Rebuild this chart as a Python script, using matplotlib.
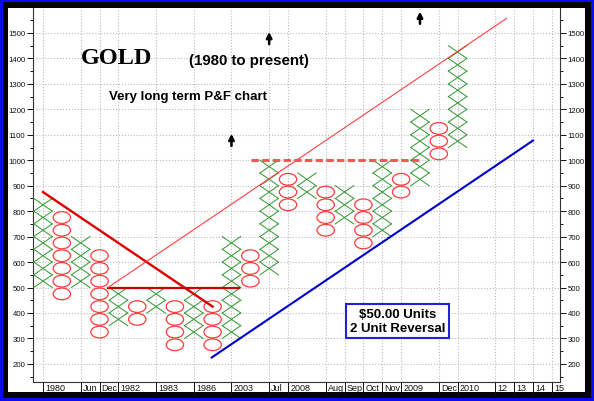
#!/usr/bin/python3
# coding: utf-8
""" Gold very long term point & figure chart """

import matplotlib
matplotlib.use('Agg')
import matplotlib.pyplot as plt
from matplotlib.patches import Ellipse, Rectangle
from matplotlib.transforms import ScaledTranslation

# ---- Data ----
box = 50
col_kind = ['X', 'O', 'X', 'O', 'X', 'O', 'X', 'O', 'X', 'O', 'X', 'O',
            'X', 'O', 'X', 'O', 'X', 'O', 'X', 'O', 'X', 'O', 'X']
col_low = [500, 450, 500, 300, 350, 350, 400, 250, 300, 250, 300, 500,
           550, 800, 850, 700, 750, 650, 700, 850, 900, 1000, 1050]
col_high = [850, 800, 700, 650, 500, 450, 500, 450, 500, 450, 700, 650,
            1000, 950, 950, 900, 900, 850, 1000, 950, 1200, 1150, 1450]

date_cols = [0, 2, 3, 4, 6, 8, 10, 12, 13, 15, 16, 17, 18, 19, 21, 22, 24, 25, 26, 27]
date_labels = ['1980', 'Jun', 'Dec', '1982', '1983', '1986', '2003', 'Jul', '2008',
               'Aug', 'Sep', 'Oct', 'Nov', '2009', 'Dec', '2010', '12', '13', '14', '15']

# trend lines: (start col, start price, end col, end price)
down_trend = (0, 875, 9, 425)
base_line = (3.45, 500, 10.4, 500)
up_channel = (3.45, 500, 24.6, 1557.5)
top_line = (11.05, 1000, 20.1, 1000)
support_line = (8.95, 225, 26.0, 1077.5)

arrow_cols = [12, 10, 20]
arrow_prices = [1480, 1080, 1560]

# ---- Figure ----
fig = plt.figure(figsize=(5.94, 4.02), dpi=100)
fig.patch.set_facecolor('#0c0cf0')
W, H = 594, 402
fig.add_artist(Rectangle((3 / W, 3 / H), 588 / W, 396 / H, transform=fig.transFigure,
                         facecolor='black', edgecolor='none', zorder=-10))
fig.add_artist(Rectangle((8 / W, 9.5 / H), 577 / W, 383.5 / H, transform=fig.transFigure,
                         facecolor='white', edgecolor='none', zorder=-9))

ax = fig.add_axes([33 / W, 1 - 382.7 / H, (560 - 33) / W, (382.7 - 9) / H])
ax.set_facecolor('none')
ax.set_xlim(-0.53, 27.43)
ax.set_ylim(130, 1598)

# columns of X and O
for c, (kind, lo, hi) in enumerate(zip(col_kind, col_low, col_high)):
    for p in range(lo, hi, box):
        if kind == 'X':
            w = 0.49
            ax.plot([c - w, c + w], [p, p + box], color='#3a9a3a', lw=0.75, zorder=3)
            ax.plot([c - w, c + w], [p + box, p], color='#3a9a3a', lw=0.75, zorder=3)
        else:
            ax.add_patch(Ellipse((c, p + box / 2), 0.92, box * 0.92, facecolor='none',
                                 edgecolor='#ff3b3b', lw=0.9, zorder=3))

# trend lines
ax.plot(down_trend[::2], down_trend[1::2], color='#dd0000', lw=1.7, zorder=4)
ax.plot(base_line[::2], base_line[1::2], color='#cc0000', lw=1.6, zorder=4)
ax.plot(up_channel[::2], up_channel[1::2], color='#ff4040', lw=0.8, zorder=4)
ax.plot(top_line[::2], top_line[1::2], color='#ff5555', lw=2.2, dashes=(2.4, 1.1), zorder=4)
ax.plot(support_line[::2], support_line[1::2], color='#0000cc', lw=1.5, zorder=4)

# arrows
for c, p in zip(arrow_cols, arrow_prices):
    ax.annotate('', xy=(c, p + 24), xytext=(c, p - 24),
                arrowprops=dict(arrowstyle='-|>', color='black', lw=1.8, mutation_scale=8,
                                shrinkA=0, shrinkB=0))

# texts
ax.text(3.9, 1402, 'GOLD', family='Liberation Serif', fontweight='bold', fontsize=17.5,
        ha='center', va='center')
ax.text(10.95, 1394, '(1980 to present)', family='Liberation Sans', fontweight='bold',
        fontsize=10.8, ha='center', va='center')
ax.text(7.72, 1253, 'Very long term P&F chart', family='Liberation Sans', fontweight='bold',
        fontsize=9.5, ha='center', va='center')
ax.text(18.8, 369, '$50.00 Units\n2 Unit Reversal', family='Liberation Sans',
        fontweight='bold', fontsize=9.5, ha='center', va='center', linespacing=1.25,
        bbox=dict(boxstyle='square,pad=0.3', facecolor='white', edgecolor='#2020dd', lw=1.5),
        zorder=5)

# axes
ax.set_yticks(range(200, 1501, 100))
ax.set_yticks(range(150, 1600, 50), minor=True)
ax.set_xticks(date_cols, date_labels)
ax.grid(True, which='major', linestyle=':', color='#bbbbbb', lw=0.8)
ax.set_axisbelow(True)
for side in ['left', 'right', 'bottom']:
    ax.spines[side].set_color('#333333')
ax.spines['top'].set_visible(False)
ax.tick_params(axis='y', which='both', left=True, right=True, labelleft=True,
               labelright=True, labelsize=5.6, colors='#111111', length=4, width=0.7, pad=1.5)
ax.tick_params(axis='y', which='minor', length=2)
ax.tick_params(axis='x', length=9, width=0.7, pad=-8, labelsize=6.5, colors='#111111')
for lbl in ax.get_xticklabels():
    lbl.set_family('Liberation Sans')
    lbl.set_ha('left')
    lbl.set_transform(lbl.get_transform() + ScaledTranslation(1.5 / 72, 0, fig.dpi_scale_trans))
for lbl in ax.get_yticklabels():
    lbl.set_family('Liberation Sans')

fig.savefig('out.png', dpi=100, facecolor=fig.get_facecolor())
